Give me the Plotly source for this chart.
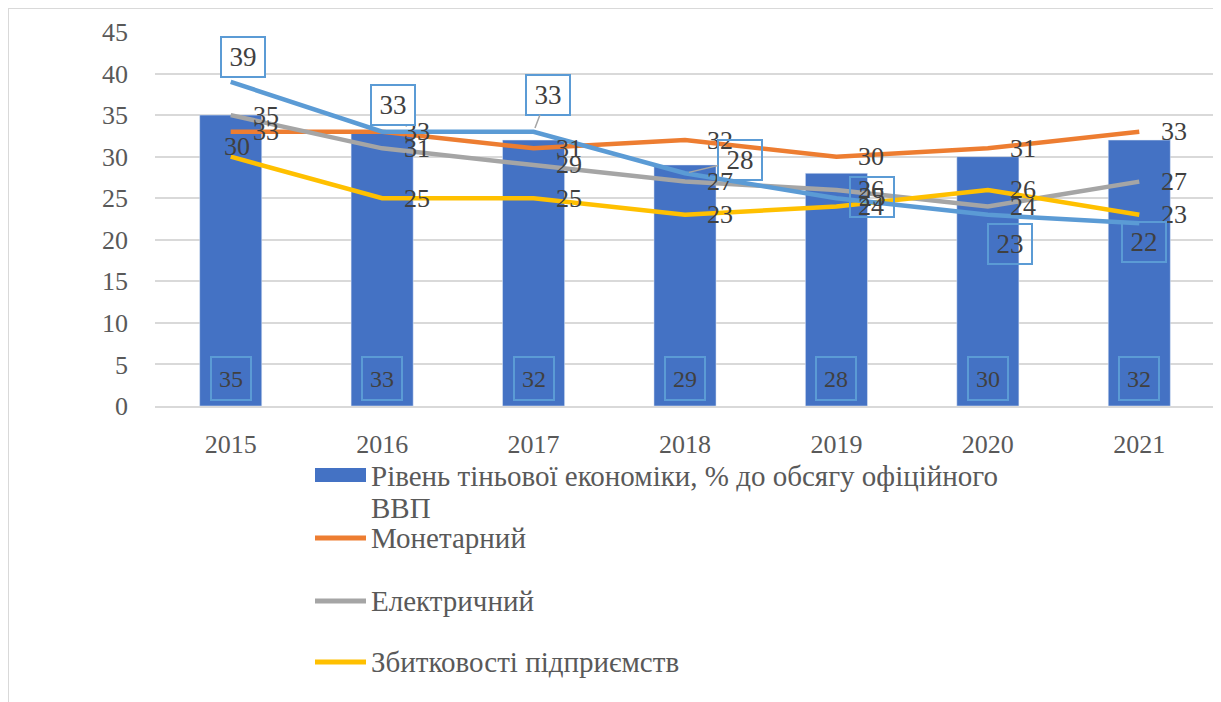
import plotly.graph_objects as go

years = ["2015", "2016", "2017", "2018", "2019", "2020", "2021"]
shadow_level = [35, 33, 32, 29, 28, 30, 32]
monetary = [33, 33, 31, 32, 30, 31, 33]
electric = [35, 31, 29, 27, 26, 24, 27]
losses = [30, 25, 25, 23, 24, 26, 23]
integral = [39, 33, 33, 28, 25, 23, 22]

bar_name = "Рівень тіньової економіки, % до обсягу офіційного<br>ВВП"
line_names = ["Монетарний", "Електричний", "Збитковості підприємств"]

C_BAR = "#4472C4"
C_OR = "#ED7D31"
C_GR = "#A5A5A5"
C_YE = "#FFC000"
C_LB = "#5B9BD5"
TXT = "#404040"
FONT = "Liberation Serif"

OFF = 8  # page body margin
W, H = 1213, 694
L, R, T, B = 147, 6, 24, 296
PW, PH = W - L - R, H - T - B

def px(x):
    return (x - OFF - L) / PW

def py(y):
    return (H - B - (y - OFF)) / PH

idx = list(range(len(years)))

fig = go.Figure()
fig.add_trace(go.Bar(x=idx, y=shadow_level, marker_color=C_BAR, width=0.41,
                     name=bar_name, showlegend=False))
for vals, col, nm in [(monetary, C_OR, line_names[0]), (electric, C_GR, line_names[1]),
                      (losses, C_YE, line_names[2]), (integral, C_LB, "Інтегральний")]:
    fig.add_trace(go.Scatter(x=idx, y=vals, mode="lines", name=nm, showlegend=False,
                             line=dict(color=col, width=4.5)))

ann = []
for i, v in zip(idx, shadow_level):
    ann.append(dict(x=i, y=0, text=str(v), showarrow=False, yshift=28,
                    font=dict(family=FONT, size=24, color=TXT), width=36, height=39,
                    borderpad=1, bordercolor=C_LB, borderwidth=2))
for vals in (monetary, electric):
    for i, v in zip(idx, vals):
        ann.append(dict(x=i, y=v, text=str(v), showarrow=False, xanchor="left", xshift=20,
                        font=dict(family=FONT, size=26, color=TXT)))
for i, v in zip(idx, losses):
    if i == 0:
        ann.append(dict(x=i, y=v, text=str(v), showarrow=False, xshift=6, yshift=10,
                        font=dict(family=FONT, size=26, color=TXT)))
    else:
        ann.append(dict(x=i, y=v, text=str(v), showarrow=False, xanchor="left", xshift=20,
                        font=dict(family=FONT, size=26, color=TXT)))
lb_off = [(12, -25), (11, -27), (14, -37), (55, -13), (36, -1), (22, 29), (5, 19)]
for i, v in zip(idx, integral):
    dx, dy = lb_off[i]
    leader = i in (2, 3)
    ann.append(dict(x=i, y=v, text=str(v), showarrow=leader, ax=dx, ay=dy,
                    xshift=0 if leader else dx, yshift=0 if leader else -dy,
                    arrowhead=0, arrowwidth=1.5, arrowcolor="#A5A5A5", standoff=4,
                    font=dict(family=FONT, size=27, color=TXT), width=40, height=36,
                    borderpad=1, bordercolor=C_LB, borderwidth=2,
                    bgcolor="white" if i < 3 else "rgba(0,0,0,0)"))

shapes = [
    dict(type="line", xref="paper", yref="paper", x0=-L / PW, x1=-L / PW,
         y0=-B / PH, y1=(H - B) / PH, line=dict(color="#D9D9D9", width=2), layer="below"),
    dict(type="line", xref="paper", yref="paper", x0=-L / PW, x1=(W - L) / PW,
         y0=(H - B) / PH, y1=(H - B) / PH, line=dict(color="#D9D9D9", width=2), layer="below"),
    dict(type="rect", xref="paper", yref="paper", x0=px(315), x1=px(366), y0=py(482), y1=py(468),
         fillcolor=C_BAR, line=dict(width=0)),
]
leg_lines = [(538, C_OR), (601, C_GR), (662, C_YE)]
for yy, col in leg_lines:
    shapes.append(dict(type="line", xref="paper", yref="paper", x0=px(315), x1=px(366),
                       y0=py(yy), y1=py(yy), line=dict(color=col, width=5)))
leg_font = dict(family=FONT, size=29, color="#595959")
ann.append(dict(xref="paper", yref="paper", x=px(369), y=py(476), xanchor="left", yanchor="middle",
                text=bar_name.split("<br>")[0], showarrow=False, font=leg_font))
ann.append(dict(xref="paper", yref="paper", x=px(369), y=py(508), xanchor="left", yanchor="middle",
                text=bar_name.split("<br>")[1], showarrow=False, font=leg_font))
for (yy, col), nm in zip(leg_lines, line_names):
    ann.append(dict(xref="paper", yref="paper", x=px(369), y=py(yy), xanchor="left",
                    yanchor="middle", text=nm, showarrow=False, font=leg_font))

fig.update_layout(
    width=W, height=H, margin=dict(l=L, r=R, t=T, b=B),
    plot_bgcolor="white", paper_bgcolor="white",
    annotations=ann, shapes=shapes, showlegend=False,
    font=dict(family=FONT, color="#595959"),
    xaxis=dict(type="linear", range=[-0.5, len(years) - 0.5], tickmode="array",
               tickvals=idx, ticktext=years, showgrid=False, zeroline=False, showline=True,
               linecolor="#D9D9D9", linewidth=1.5, ticks="", ticklabelstandoff=14,
               tickfont=dict(family=FONT, size=26, color="#595959")),
    yaxis=dict(range=[0, 45], dtick=5, showgrid=True, gridcolor="#D9D9D9", gridwidth=1.5,
               zeroline=False, showline=False, ticks="", ticklabelstandoff=26,
               tickfont=dict(family=FONT, size=26, color="#595959")),
)
fig.write_html("out.html")
